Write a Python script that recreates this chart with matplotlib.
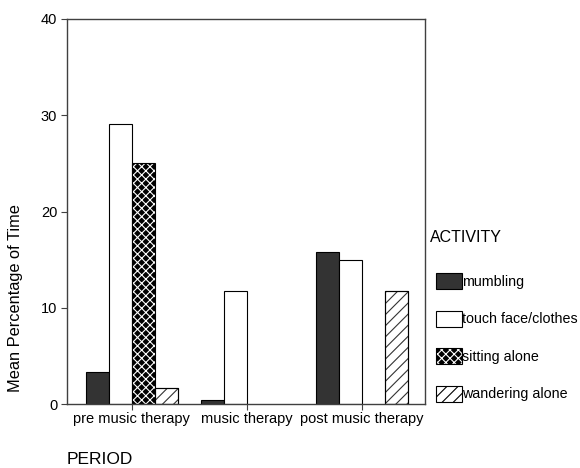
import numpy as np
import matplotlib
matplotlib.use("Agg")
import matplotlib.pyplot as plt
from matplotlib.patches import Patch
from matplotlib.legend_handler import HandlerTuple

plt.rcParams['font.family'] = ['Liberation Sans', 'DejaVu Sans']
plt.rcParams['hatch.linewidth'] = 0.8

periods = ["pre music therapy", "music therapy", "post music therapy"]
activities = ["mumbling", "touch face/clothes", "sitting alone", "wandering alone"]
mumbling = [3.3, 0.4, 15.8]
touch = [29.1, 11.7, 15.0]
sitting = [25.0, np.nan, np.nan]
wandering = [1.7, np.nan, 11.7]
yticks = [0, 10, 20, 30, 40]

W, H = 580, 468
fig = plt.figure(figsize=(W / 100, H / 100), dpi=100)
ax = fig.add_axes([67 / W, (H - 404) / H, (425 - 67) / W, (404 - 19) / H])

x = np.arange(len(periods))
bw = 0.2
offs = [-1.5 * bw, -0.5 * bw, 0.5 * bw, 1.5 * bw]

ax.bar(x + offs[0], mumbling, bw, color='#333333', edgecolor='black', linewidth=0.8)
ax.bar(x + offs[1], touch, bw, color='white', edgecolor='black', linewidth=0.8)
ax.bar(x + offs[2], sitting, bw, color='black', edgecolor='white', hatch='xxxx', linewidth=0)
ax.bar(x + offs[2], sitting, bw, fill=False, edgecolor='black', linewidth=0.8)
ax.bar(x + offs[3], wandering, bw, color='white', edgecolor='#333333', hatch='///', linewidth=0.8)
ax.bar(x + offs[3], wandering, bw, fill=False, edgecolor='black', linewidth=0.8)

ax.set_xlim(-0.565, 2.55)
ax.set_ylim(0, 40)
ax.set_yticks(yticks)
ax.set_xticks(x)
ax.set_xticklabels(periods, fontsize=10.5)
ax.tick_params(axis='y', labelsize=10.5, length=4, width=0.8, pad=3, color='#404040')
ax.tick_params(axis='x', length=4, width=0.8, pad=1.5, color='#404040')
for s in ax.spines.values():
    s.set_color('#404040')
    s.set_linewidth(1.0)

fig.text(16 / W, 1 - 298 / H, "Mean Percentage of Time", rotation=90,
         ha='center', va='center', fontsize=11.8)
fig.text(67 / W, 1 - 460 / H, "PERIOD", ha='left', va='center', fontsize=12.5)
fig.text(430 / W, 1 - 237 / H, "ACTIVITY", ha='left', va='center', fontsize=11.5)

h_m = Patch(facecolor='#333333', edgecolor='black', linewidth=0.8)
h_t = Patch(facecolor='white', edgecolor='black', linewidth=0.8)
h_s = (Patch(facecolor='black', edgecolor='white', hatch='xxxx', linewidth=0),
       Patch(fill=False, edgecolor='black', linewidth=0.8))
h_w = Patch(facecolor='white', edgecolor='black', hatch='///', linewidth=0.8)
fig.legend([h_m, h_t, h_s, h_w], activities,
           handler_map={tuple: HandlerTuple(ndivide=1, pad=0)},
           loc='upper left', bbox_to_anchor=(436 / W, 1 - 273 / H),
           frameon=False, fontsize=10.3, handlelength=1.82, handleheight=1.35,
           handletextpad=0.0, labelspacing=1.5, borderpad=0, borderaxespad=0)

fig.savefig("out.png", dpi=100)
